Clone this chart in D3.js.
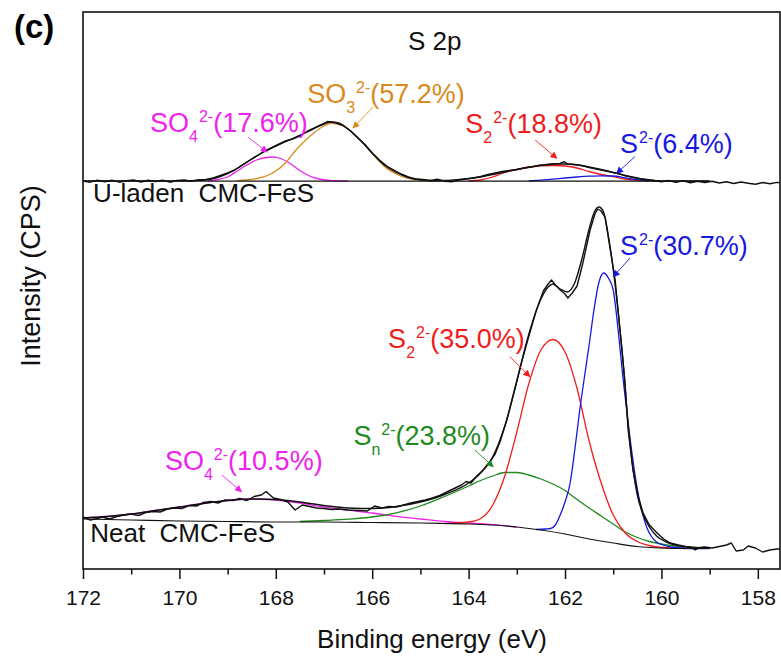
<!DOCTYPE html>
<html>
<head>
<meta charset="utf-8">
<script src="https://cdn.jsdelivr.net/npm/d3@7"></script>
<style>
  body { margin: 0; background: #fff; }
  text { font-family: "Liberation Sans", Arial, sans-serif; }
</style>
</head>
<body>
<svg width="781" height="657"></svg>
<script>
// ---- data: [binding energy (eV), intensity (a.u.)] ----
var tickValues = [172, 170, 168, 166, 164, 162, 160, 158];
var minorTicks = [171, 169, 167, 165, 163, 161, 159];

// U-laden CMC-FeS (upper, offset spectrum)
var uRaw = [[172,388],[171.85,386.8],[171.7,388.8],[171.55,387.3],[171.4,388.8],[171.25,386.8],[171.1,388.3],[170.95,389],[170.8,387],[170.65,388.8],[170.5,387.5],[170.35,388.8],[170.2,386.8],[170.05,388.5],[169.9,389],[169.75,387.8],[169.6,389.2],[169.45,389.5],[169.3,391],[169.15,393.5],[169,396],[168.85,399],[168.7,404],[168.55,408.5],[168.4,413],[168.25,417.5],[168.1,421],[167.95,424.5],[167.8,428],[167.65,430],[167.5,433.5],[167.35,437.5],[167.2,441],[167.05,444.5],[166.93,447.5],[166.85,447],[166.75,446],[166.6,443.5],[166.45,438],[166.3,431],[166.15,424.5],[166,416],[165.85,409],[165.7,403],[165.55,399],[165.4,395],[165.25,392],[165.1,390],[164.95,389.5],[164.8,388.3],[164.65,389.8],[164.5,387.8],[164.35,387.3],[164.2,389],[164.05,390],[163.9,391],[163.75,392.5],[163.6,394.5],[163.45,396],[163.3,397.5],[163.15,398.5],[163,399.5],[162.85,401],[162.7,402],[162.55,403.5],[162.4,404],[162.25,405],[162.1,405.5],[162.02,407.3],[161.95,405],[161.8,404.5],[161.65,403.5],[161.5,401.5],[161.35,400],[161.2,398.5],[161.05,397],[160.9,395.5],[160.75,393.5],[160.6,392],[160.45,390.5],[160.3,389.5],[160.15,388.5],[160,387.3],[159.85,388.5],[159.7,386.8],[159.55,388.2],[159.4,386.3],[159.25,387.7],[159.1,386.5],[158.95,387.8],[158.8,386],[158.65,387.2],[158.5,385.5],[158.35,387],[158.2,385.8],[158.05,384.8],[157.9,386.5],[157.75,385.3],[157.6,386.6],[157.5,386.3]];
var uEnvelope = [[172,388],[170,388],[169.5,388.8],[169.25,391],[169,395.5],[168.75,402],[168.5,410],[168.25,417],[168,423],[167.75,428.5],[167.5,433.5],[167.25,439.5],[167,445],[166.85,447],[166.7,446],[166.5,440],[166.25,429],[166,416],[165.75,404],[165.5,396.5],[165.25,391.5],[165,389.3],[164.75,388.5],[164.5,388.5],[164.25,389.3],[164,390.5],[163.75,392],[163.5,394.5],[163.25,397],[163,399.5],[162.75,401.8],[162.5,403.8],[162.25,405],[162,405],[161.75,404],[161.5,402],[161.25,399.5],[161,396.5],[160.75,393.3],[160.5,390.5],[160.25,388.8],[160,388],[159,388]];
var uBackground = [[172,388],[159,387.8]];
var uSO4 = [[169.4,388],[169.2,389.5],[169,392],[168.8,398],[168.6,404],[168.4,409],[168.2,411.5],[168.05,412],[167.9,410.5],[167.7,405.5],[167.5,398.5],[167.3,393],[167.1,390],[166.9,388.7],[166.7,388.2],[166.5,388]];
var uSO3 = [[168.8,388.3],[168.6,389],[168.4,390.5],[168.2,393],[168,398],[167.8,406],[167.6,418],[167.4,428],[167.2,436.5],[167,443],[166.85,445.7],[166.7,444.5],[166.5,440],[166.3,431.5],[166.1,421],[165.9,410],[165.7,400.5],[165.5,395],[165.3,391],[165.1,389.3],[164.9,388.5],[164.6,388]];
var uS2 = [[164,388],[163.75,389],[163.5,392],[163.25,396.5],[163,399.5],[162.75,402],[162.5,403.2],[162.25,403.5],[162,403],[161.75,401],[161.5,397.5],[161.25,394.5],[161,392.3],[160.75,390],[160.5,388.7],[160.25,388]];
var uS = [[162.75,388],[162.5,388.8],[162.25,389.8],[162,391],[161.75,392],[161.5,392.8],[161.25,393.2],[161,393],[160.75,391.2],[160.5,389.2],[160.25,388.3],[160,388]];

// Neat CMC-FeS (lower spectrum)
var nRaw = [[172,52],[171.85,49],[171.7,50.5],[171.6,52],[171.45,50],[171.3,52.5],[171.15,54],[171,55],[170.85,53.5],[170.7,56.5],[170.55,57.5],[170.4,57],[170.25,60],[170.1,61],[169.95,60.5],[169.8,63.5],[169.65,63],[169.5,66.5],[169.35,67.5],[169.2,66],[169.05,69],[168.9,68.5],[168.75,70.5],[168.6,68.5],[168.45,72.5],[168.3,74],[168.2,77.5],[168.05,71],[167.9,69.5],[167.75,67],[167.6,59],[167.45,64],[167.3,62.5],[167.15,61],[167,60.5],[166.85,59.5],[166.7,60],[166.5,59],[166.3,58.5],[166.1,58],[165.95,63],[165.8,61],[165.65,62.5],[165.5,62],[165.35,64],[165.2,66],[165.05,67.5],[164.9,69],[164.75,71],[164.6,73.5],[164.45,77],[164.3,80.5],[164.15,84],[164.05,87.5],[163.95,86],[163.85,92],[163.7,99],[163.55,108],[163.45,115],[163.35,127],[163.2,150],[163.05,178],[162.9,207],[162.75,233],[162.6,258],[162.45,278],[162.35,285],[162.28,289],[162.2,284],[162.1,279],[162,275],[161.94,271],[161.85,276],[161.75,283],[161.63,306],[161.48,339],[161.38,355],[161.32,360],[161.25,358],[161.17,352],[161.07,322],[160.96,289],[160.86,239],[160.76,189],[160.69,139],[160.59,99],[160.48,72],[160.38,56],[160.25,44],[160.09,36],[159.95,30],[159.82,26],[159.65,24],[159.5,22.5],[159.4,22],[159.3,19],[159.2,21.5],[159.1,22],[158.95,21],[158.8,22.5],[158.65,24],[158.55,26],[158.45,18],[158.3,19],[158.2,23],[158.05,21],[157.9,17],[157.75,19],[157.6,20],[157.5,20]];
var nEnvelope = [[172,51],[171.5,52.5],[171,55],[170.5,58.5],[170,62],[169.5,65.5],[169,68.5],[168.5,70],[168,69.5],[167.5,67],[167,63.5],[166.5,61],[166,60.5],[165.5,62.5],[165,67],[164.5,74.5],[164,86],[163.75,96],[163.5,112],[163.25,143],[163,188],[162.75,235],[162.5,270],[162.35,282],[162.25,285],[162.1,280],[161.95,277],[161.8,286],[161.65,310],[161.5,340],[161.4,356],[161.3,362],[161.2,357],[161.1,333],[161,300],[160.9,258],[160.8,210],[160.7,150],[160.6,104],[160.5,74],[160.4,57],[160.25,42],[160.1,33],[159.9,27],[159.6,23],[159.3,21.5],[159,21]];
var nBackground = [[172,50],[171,49],[170,48],[169,47.5],[168,47],[167,47],[166,46.5],[165,46],[164.5,45.5],[164,45],[163.5,44],[163,42],[162.5,39],[162,35],[161.5,30],[161,26],[160.5,22.5],[160,21],[159.5,20.5],[159,20.5]];
var nSO4 = [[172,51],[171.5,52.5],[171,55],[170.5,58.5],[170,62],[169.5,65.8],[169,68.5],[168.5,70],[168,69],[167.5,66],[167,62],[166.5,58.8],[166,56],[165.5,52.7],[165,50],[164.5,47.5],[164,46],[163.5,44.3],[163,42]];
var nSn = [[167.5,47.5],[167,48.5],[166.5,49.8],[166,52],[165.5,56.2],[165,63],[164.5,72.5],[164,83],[163.75,88.5],[163.5,93],[163.25,96.5],[163,96.5],[162.75,94],[162.5,90],[162.25,85],[162,78.5],[161.75,69.5],[161.5,61],[161.25,53],[161,45],[160.75,37],[160.5,31.5],[160.25,27.5],[160,25],[159.5,22],[159,21]];
var nS2 = [[164.5,45.5],[164,47],[163.75,50.5],[163.5,64],[163.25,93],[163,137],[162.75,185.5],[162.5,219],[162.25,229.5],[162,217],[161.75,180.5],[161.5,128],[161.25,86],[161,54],[160.75,36],[160.5,27.5],[160.25,23.5],[160,21.5],[159.5,20.5]];
var nS = [[162.6,39.5],[162.4,40],[162.3,40.5],[162.2,44],[162.1,54],[162,67],[161.9,84.5],[161.8,118],[161.7,157],[161.6,191],[161.5,224],[161.4,259],[161.3,286],[161.2,296],[161.1,291],[161,279],[160.9,240],[160.8,192],[160.7,150],[160.6,112],[160.5,80],[160.4,57],[160.3,41],[160.2,32],[160.1,27],[160,24.5],[159.8,22],[159.6,21],[159.3,20.5],[159,20.5]];

// ---- layout ----
var svg = d3.select("svg");
var margin = {left: 83, top: 12, right: 780, bottom: 569};

var x = d3.scaleLinear().domain([172, 157.54]).range([margin.left, margin.right]);
var y = d3.scaleLinear().domain([0, 557]).range([margin.bottom, margin.top]);

var colors = {
  so4: "#ee22ee",
  so3: "#d98a1e",
  s2: "#f01c1c",
  s: "#1818e0",
  sn: "#1e8a1e",
  black: "#111"
};

svg.append("clipPath").attr("id", "plot")
  .append("rect")
    .attr("x", margin.left).attr("y", margin.top)
    .attr("width", margin.right - margin.left)
    .attr("height", margin.bottom - margin.top);

var smooth = d3.line()
    .x(function(d) { return x(d[0]); })
    .y(function(d) { return y(d[1]); })
    .curve(d3.curveMonotoneX);

var jagged = d3.line()
    .x(function(d) { return x(d[0]); })
    .y(function(d) { return y(d[1]); });

var g = svg.append("g").attr("clip-path", "url(#plot)");

function curve(data, color, width, gen) {
  g.append("path")
      .datum(data)
      .attr("d", gen || smooth)
      .attr("fill", "none")
      .attr("stroke", color)
      .attr("stroke-width", width)
      .attr("stroke-linejoin", "round");
}

// upper spectrum
curve(uSO4, colors.so4, 1.3);
curve(uSO3, colors.so3, 1.3);
curve(uS2, colors.s2, 1.3);
curve(uS, colors.s, 1.3);
curve(uBackground, colors.black, 1.2);
curve(uRaw, colors.black, 1.4, jagged);
curve(uEnvelope, colors.black, 1.4);

// lower spectrum
curve(nSO4, colors.so4, 1.3);
curve(nSn, colors.sn, 1.3);
curve(nS2, colors.s2, 1.3);
curve(nS, colors.s, 1.3);
curve(nBackground, colors.black, 1.2);
curve(nRaw, colors.black, 1.4, jagged);
curve(nEnvelope, colors.black, 1.4);

// ---- axes ----
svg.append("rect")
    .attr("x", margin.left).attr("y", margin.top)
    .attr("width", margin.right - margin.left)
    .attr("height", margin.bottom - margin.top)
    .attr("fill", "none")
    .attr("stroke", "#111")
    .attr("stroke-width", 1.6);

var xAxis = svg.append("g")
    .attr("transform", "translate(0," + margin.bottom + ")")
    .call(d3.axisBottom(x).tickValues(tickValues).tickSize(10).tickSizeOuter(0).tickPadding(11));
xAxis.select(".domain").remove();
xAxis.selectAll(".tick line").attr("stroke", "#111").attr("stroke-width", 1.5);
xAxis.selectAll(".tick text")
    .attr("fill", "#111")
    .style("font-size", "21px")
    .style("font-family", "'Liberation Sans', Arial, sans-serif");

var xMinor = svg.append("g")
    .attr("transform", "translate(0," + margin.bottom + ")")
    .call(d3.axisBottom(x).tickValues(minorTicks).tickSize(5.5).tickFormat(""));
xMinor.select(".domain").remove();
xMinor.selectAll(".tick line").attr("stroke", "#111").attr("stroke-width", 1.5);

svg.append("text")
    .attr("x", 432).attr("y", 648)
    .attr("text-anchor", "middle")
    .style("font-size", "26px")
    .attr("fill", "#111")
    .text("Binding energy (eV)");

svg.append("text")
    .attr("transform", "translate(40,276) rotate(-90)")
    .attr("text-anchor", "middle")
    .style("font-size", "27px")
    .attr("fill", "#111")
    .text("Intensity (CPS)");

svg.append("text")
    .attr("x", 14).attr("y", 38)
    .style("font-size", "33px")
    .style("font-weight", "bold")
    .attr("fill", "#000")
    .text("(c)");

// ---- labels ----
var plain = [
  {text: "S 2p", at: [165.26, 519]},
  {text: "U-laden  CMC-FeS", at: [171.79, 367.3]},
  {text: "Neat  CMC-FeS", at: [171.85, 27.3]}
];
plain.forEach(function(p) {
  svg.append("text")
      .attr("x", x(p.at[0])).attr("y", y(p.at[1]))
      .style("font-size", "26px")
      .style("white-space", "pre")
      .attr("fill", "#111")
      .text(p.text);
});

// species labels: main text, subscript, superscript, percentage
var species = [
  {base: "SO", sub: "4", pct: "(17.6%)", color: colors.so4, at: [170.61, 437.3], arrow: [[168.58, 432], [168.18, 417]]},
  {base: "SO", sub: "3", pct: "(57.2%)", color: colors.so3, at: [167.35, 465.7], arrow: [[165.98, 462], [166.40, 441]]},
  {base: "S", sub: "2", pct: "(18.8%)", color: colors.s2, at: [164.07, 435.7], arrow: [[162.62, 429], [162.17, 410.7]]},
  {base: "S", sub: "", pct: "(6.4%)", color: colors.s, at: [160.86, 415.7], arrow: [[160.55, 412.3], [160.93, 395.7]]},
  {base: "S", sub: "", pct: "(30.7%)", color: colors.s, at: [160.86, 314], arrow: [[160.65, 311], [161.0, 292.3]]},
  {base: "S", sub: "2", pct: "(35.0%)", color: colors.s2, at: [165.67, 220.7], arrow: [[163.14, 212.3], [162.73, 192.3]]},
  {base: "S", sub: "n", pct: "(23.8%)", color: colors.sn, at: [166.39, 124], arrow: [[163.87, 119], [163.49, 102.3]]},
  {base: "SO", sub: "4", pct: "(10.5%)", color: colors.so4, at: [170.3, 99], arrow: [[169.12, 94], [168.71, 77.3]]}
];

var defs = svg.append("defs");
species.forEach(function(s, i) {
  defs.append("marker")
      .attr("id", "head" + i)
      .attr("viewBox", "0 0 10 10")
      .attr("refX", 9).attr("refY", 5)
      .attr("markerWidth", 8).attr("markerHeight", 7)
      .attr("markerUnits", "userSpaceOnUse")
      .attr("orient", "auto")
    .append("path")
      .attr("d", "M0,0L10,5L0,10z")
      .attr("fill", s.color);

  svg.append("line")
      .attr("x1", x(s.arrow[0][0])).attr("y1", y(s.arrow[0][1]))
      .attr("x2", x(s.arrow[1][0])).attr("y2", y(s.arrow[1][1]))
      .attr("stroke", s.color)
      .attr("stroke-width", 0.9)
      .attr("marker-end", "url(#head" + i + ")");

  var t = svg.append("text")
      .attr("x", x(s.at[0])).attr("y", y(s.at[1]))
      .attr("fill", s.color)
      .style("font-size", "27px");
  t.append("tspan").text(s.base);
  if (s.sub) {
    t.append("tspan").attr("dy", 10).style("font-size", "16px").text(s.sub);
    t.append("tspan").attr("dy", -20).attr("dx", 1).style("font-size", "16px").text("2-");
  } else {
    t.append("tspan").attr("dy", -10).attr("dx", 1).style("font-size", "16px").text("2-");
  }
  t.append("tspan").attr("dy", 10).text(s.pct);
});
</script>
</body>
</html>
